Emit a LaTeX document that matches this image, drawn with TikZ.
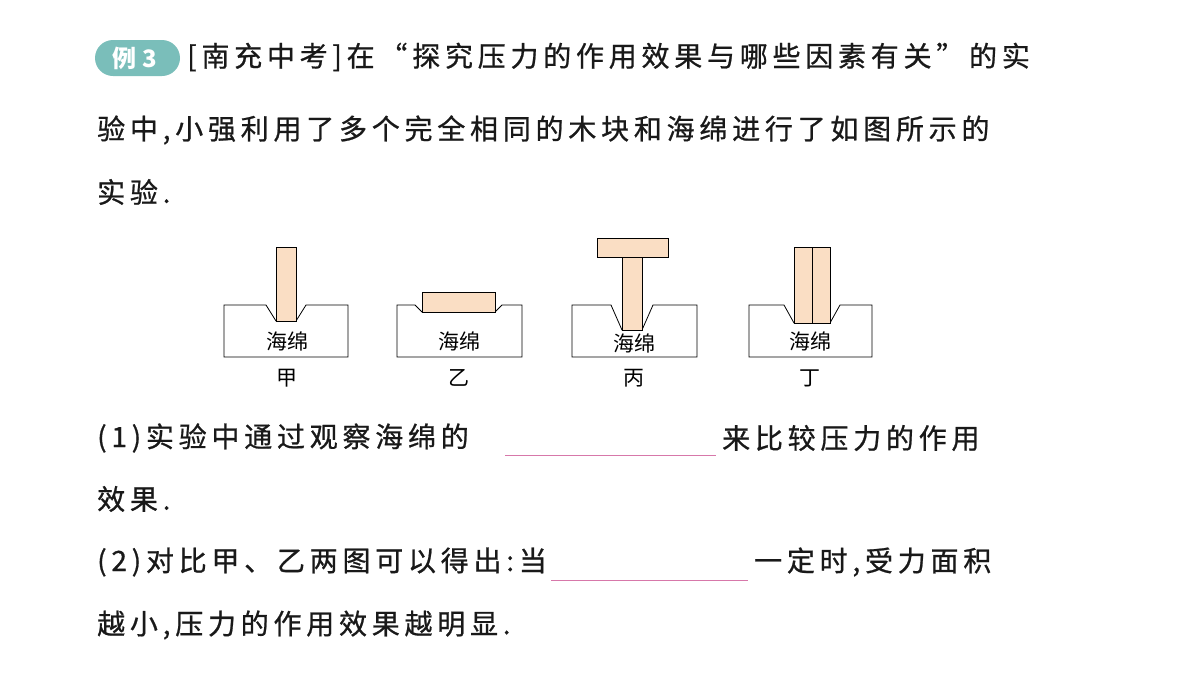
\documentclass[tikz,border=0pt]{standalone}
\usepackage{fontspec}
\setmainfont{Noto Sans CJK SC}
\newfontfamily\spaced[LetterSpace=17,FakeBold=0.8]{Noto Sans CJK SC}
\definecolor{badge}{RGB}{122,190,186}
\definecolor{wood}{RGB}{250,222,196}
\definecolor{pinkline}{RGB}{215,120,170}
\definecolor{txt}{RGB}{25,25,25}
\begin{document}
\begin{tikzpicture}[x=1pt,y=-1pt,
  line/.style={anchor=west,inner sep=0pt,font=\spaced\fontsize{28}{30}\selectfont,text=txt},
  sponge/.style={draw=black,line width=0.8pt,fill=white},
  woodb/.style={draw=black,line width=0.8pt,fill=wood},
  lab/.style={font=\fontsize{21}{22}\selectfont,inner sep=0pt}]
\useasboundingbox (0,0) rectangle (1200,675);
% badge
\fill[badge,rounded corners=18pt] (95,40) rectangle (180,76);
\node[inner sep=0pt,text=white,font=\fontsize{24}{26}\selectfont\bfseries] (badge) at (135,58) {例 3};
\node[line] (l1) at (187,57) {[南充中考]在“探究压力的作用效果与哪些因素有关”的实};
\node[line] (l2) at (97,130) {验中,小强利用了多个完全相同的木块和海绵进行了如图所示的};
\node[line] (l3) at (97,192) {实验.};
% 甲
\draw[sponge] (224,305) -- (266,305) -- (276,321) -- (296,321) -- (306,305) -- (348,305) -- (348,357) -- (224,357) -- cycle;
\draw[woodb] (276,247) rectangle (296,321);
\node[lab] (s1) at (287,341) {海绵};
\node[lab] (c1) at (287,378) {甲};
% 乙
\draw[sponge] (397,305) -- (415,305) -- (422,312) -- (495,312) -- (502,305) -- (522,305) -- (522,357) -- (397,357) -- cycle;
\draw[woodb] (422,292) rectangle (495,312);
\node[lab] (s2) at (459,341) {海绵};
\node[lab] (c2) at (459,378) {乙};
% 丙
\draw[sponge] (572,305) -- (611,305) -- (622,330) -- (642,330) -- (653,305) -- (697,305) -- (697,357) -- (572,357) -- cycle;
\draw[woodb] (622,257) rectangle (642,330);
\draw[woodb] (597,238) rectangle (668,257);
\node[lab] (s3) at (634,343) {海绵};
\node[lab] (c3) at (634,378) {丙};
% 丁
\draw[sponge] (749,305) -- (784,305) -- (794,323) -- (830,323) -- (840,305) -- (872,305) -- (872,357) -- (749,357) -- cycle;
\draw[woodb] (794,247) rectangle (812,323);
\draw[woodb] (812,247) rectangle (830,323);
\node[lab] (s4) at (810,341) {海绵};
\node[lab] (c4) at (810,378) {丁};
% questions
\node[line] (q1a) at (97,438) {(1)实验中通过观察海绵的};
\coordinate (u1a) at (505,455); \coordinate (u1b) at (716,455);
\draw[pinkline,line width=0.8pt] (u1a) -- (u1b);
\node[line] (q1b) at (722,438) {来比较压力的作用};
\node[line] (q1c) at (97,499) {效果.};
\node[line] (q2a) at (97,562) {(2)对比甲、乙两图可以得出:当};
\coordinate (u2a) at (551,580); \coordinate (u2b) at (748,580);
\draw[pinkline,line width=0.8pt] (u2a) -- (u2b);
\node[line] (q2b) at (754,562) {一定时,受力面积};
\node[line] (q2c) at (97,625) {越小,压力的作用效果越明显.};
\end{tikzpicture}
\end{document}
